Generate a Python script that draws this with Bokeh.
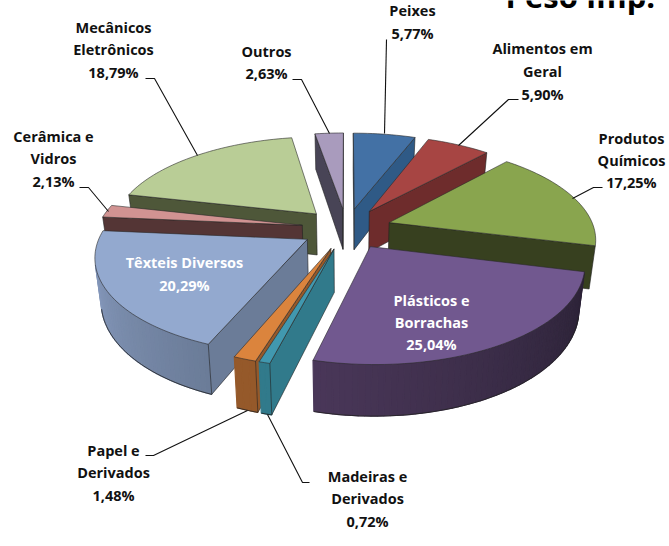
import math
from bokeh.plotting import figure
from bokeh.models import ColumnDataSource, Range1d
from bokeh.core.properties import value
from bokeh.embed import file_html
from bokeh.resources import INLINE

# ---- data (clockwise from 12 o'clock) ----
names = ["Peixes", "Alimentos em Geral", "Produtos Químicos", "Plásticos e Borrachas",
         "Madeiras e Derivados", "Papel e Derivados", "Têxteis Diversos",
         "Cerâmica e Vidros", "Mecânicos Eletrônicos", "Outros"]
shares = [5.77, 5.90, 17.25, 25.04, 0.72, 1.48, 20.29, 2.13, 18.79, 2.63]
top_colors = ["#4371A5", "#A74543", "#89A54E", "#71588F", "#4198AF", "#DB843D",
              "#93A9CF", "#D19392", "#B9CD96", "#A99BBD"]
wall_start = ["#2F5A86", "#6E2C2C", "#37401F", "#2B2236", "#317A8B", "#95592A",
              "#6B7C98", "#543535", "#4E5739", "#484456"]
wall_end = ["#2F5A86", "#6E2C2C", "#37401F", "#4A3759", "#317A8B", "#95592A",
            "#8DA1C6", "#543535", "#4E5739", "#484456"]
draw_order = [9, 0, 1, 8, 2, 7, 6, 5, 4, 3]

# ---- layout ----
W, H = 669, 546
CX, CY = 346, 228
RADIUS, EXPLODE = 205, 45
PERSP, TILT, DEPTH, SHRINK = 0.00076, 0.455, 42, 0.975

label_lines = [
    (["Peixes", "5,77%"], 412, [10, 33], "#111111"),
    (["Alimentos em", "Geral", "5,90%"], 542, [48, 71, 94], "#111111"),
    (["Produtos", "Químicos", "17,25%"], 631, [138, 160, 182], "#111111"),
    (["Plásticos e", "Borrachas", "25,04%"], 431, [300, 322, 344], "#FFFFFF"),
    (["Madeiras e", "Derivados", "0,72%"], 367, [476, 498, 521], "#111111"),
    (["Papel e", "Derivados", "1,48%"], 113, [450, 472, 495], "#111111"),
    (["Têxteis Diversos", "20,29%"], 184, [262, 285], "#FFFFFF"),
    (["Cerâmica e", "Vidros", "2,13%"], 53, [136, 158, 181], "#111111"),
    (["Mecânicos", "Eletrônicos", "18,79%"], 113, [27, 49, 72], "#111111"),
    (["Outros", "2,63%"], 266, [51, 73], "#111111"),
]
leaders = [
    ([145, 154, 197], [78, 78, 155]),
    ([292, 301, 329], [79, 79, 133]),
    ([386, 384], [39, 133]),
    ([518, 508, 458], [99, 99, 145]),
    ([602, 593, 572], [187, 187, 198]),
    ([79, 88, 108], [187, 187, 211]),
    ([145, 153, 247], [455, 455, 410]),
    ([309, 302, 267], [482, 482, 414]),
]


def project(gx, gy):
    s = 1 / (1 + PERSP * gy)
    return CX + s * gx, CY - TILT * s * gy, s


def lower(pt):
    return CX + SHRINK * (pt[0] - CX), pt[1] + DEPTH * pt[2]


def mix(c1, c2, t):
    a = [int(c1[i:i + 2], 16) for i in (1, 3, 5)]
    b = [int(c2[i:i + 2], 16) for i in (1, 3, 5)]
    return "#%02x%02x%02x" % tuple(round(u + (v - u) * t) for u, v in zip(a, b))


def facing(a, b):
    c, d = lower(b), lower(a)
    pts = [a[:2], b[:2], c, d]
    area = sum(pts[i][0] * pts[(i + 1) % 4][1] - pts[(i + 1) % 4][0] * pts[i][1] for i in range(4))
    return area < 0


p = figure(width=W, height=H, x_range=Range1d(0, W), y_range=Range1d(H, 0),
           toolbar_location=None, output_backend="svg", min_border=0,
           outline_line_color=None, background_fill_color="white")
p.xaxis.visible = False
p.yaxis.visible = False
p.grid.visible = False

total = sum(shares)
starts = [sum(shares[:i]) / total * 360 for i in range(len(shares))]

for i in draw_order:
    a0 = starts[i]
    a1 = a0 + shares[i] / total * 360
    mid = math.radians((a0 + a1) / 2)
    ox, oy = EXPLODE * math.sin(mid), EXPLODE * math.cos(mid)
    n = max(2, int((a1 - a0) / 1.5))
    rim = []
    for j in range(n + 1):
        t = math.radians(a0 + (a1 - a0) * j / n)
        rim.append(project(ox + RADIUS * math.sin(t), oy + RADIUS * math.cos(t)))
    apex = project(ox, oy)

    # curved outer wall, shaded along the arc
    xs, ys, cs = [], [], []
    low_x, low_y = [], []
    for j in range(n):
        a, b = rim[j], rim[j + 1]
        if facing(a, b):
            c, d = lower(b), lower(a)
            xs.append([a[0], b[0], c[0], d[0]])
            ys.append([a[1], b[1], c[1], d[1]])
            cs.append(mix(wall_start[i], wall_end[i], j / n))
            if not low_x:
                low_x.append(d[0]); low_y.append(d[1])
            low_x.append(c[0]); low_y.append(c[1])
    if xs:
        p.patches(xs, ys, fill_color=cs, line_color=cs, line_width=1.2)
        p.line(low_x, low_y, line_color="#222222", line_width=0.8)

    # flat cut walls
    xs, ys, cs = [], [], []
    for a, b in ((apex, rim[0]), (rim[-1], apex)):
        if facing(a, b):
            c, d = lower(b), lower(a)
            xs.append([a[0], b[0], c[0], d[0]])
            ys.append([a[1], b[1], c[1], d[1]])
            cs.append(wall_start[i])
    if xs:
        p.patches(xs, ys, fill_color=cs, line_color="#222222", line_width=0.6)

    # top face
    p.patch([apex[0]] + [r[0] for r in rim], [apex[1]] + [r[1] for r in rim],
            fill_color=top_colors[i], line_color="#2A2A2A", line_width=0.6)

for lx, ly in leaders:
    p.line(lx, ly, line_color="#111111", line_width=1.1)

tx, ty, tt, tc = [], [], [], []
for lines, x, yy, col in label_lines:
    for line, y in zip(lines, yy):
        tx.append(x); ty.append(y); tt.append(line); tc.append(col)
src = ColumnDataSource(dict(x=tx, y=ty, text=tt, color=tc))
p.text("x", "y", text="text", source=src, text_color="color", text_font=value("Open Sans"),
       text_font_style="bold", text_font_size="14.5px", text_align="center", text_baseline="middle")
p.text([505], [-5], text=["Peso Imp."], text_color="#000000", text_font=value("Open Sans"),
       text_font_style="bold", text_font_size="31px", text_align="left", text_baseline="alphabetic")

open("out.html", "w").write(file_html(p, INLINE))
